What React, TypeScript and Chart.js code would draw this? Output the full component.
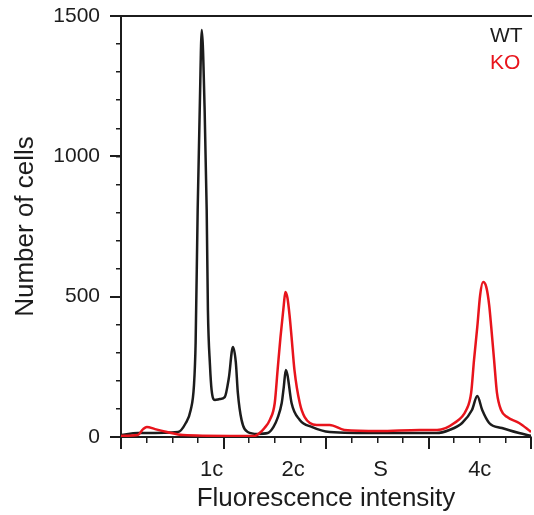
import React, { useEffect, useRef } from 'react';
import { Chart, registerables } from 'chart.js';
Chart.register(...registerables);

// Fluorescence channel (0–1000) and cell counts
const wtX = [0, 41, 139, 158, 170, 178, 182, 187, 192, 197, 204, 209, 212, 217, 221, 229, 241, 253, 263, 273, 280, 285, 294, 309, 333, 358, 372, 382, 392, 397, 402, 406, 416, 436, 465, 509, 630, 769, 801, 832, 856, 869, 881, 898, 929, 971, 1000];
const wtY = [7, 14, 18, 50, 96, 185, 335, 809, 1165, 1450, 1165, 809, 452, 256, 167, 132, 135, 142, 210, 321, 267, 157, 61, 18, 11, 14, 36, 68, 121, 178, 239, 221, 121, 61, 36, 18, 14, 14, 25, 50, 96, 146, 96, 50, 32, 14, 4];

const koX = [0, 41, 54, 63, 83, 112, 151, 265, 326, 338, 350, 363, 375, 382, 389, 397, 401, 406, 411, 416, 423, 436, 448, 477, 509, 545, 630, 728, 771, 813, 842, 854, 861, 869, 876, 883, 891, 898, 903, 910, 917, 927, 942, 971, 1000];
const koY = [4, 7, 28, 36, 28, 18, 7, 4, 4, 14, 32, 61, 121, 239, 356, 470, 517, 495, 435, 356, 239, 121, 71, 43, 43, 25, 21, 25, 25, 50, 96, 157, 274, 392, 506, 552, 534, 470, 392, 274, 157, 96, 71, 50, 18];

const xLabelPos = [221, 420, 633, 875];
const xLabelText = ['1c', '2c', 'S', '4c'];
const seriesNames = ['WT', 'KO'];

const FONT = '"Liberation Sans", Arial, Helvetica, sans-serif';
const INK = '#1c1c1c';
const RED = '#e8141c';
const seriesColors = [INK, RED];

const legendPlugin = {
  id: 'textLegend',
  afterDraw(chart: any) {
    const { ctx, chartArea } = chart;
    ctx.save();
    ctx.font = `21px ${FONT}`;
    ctx.textAlign = 'left';
    ctx.textBaseline = 'middle';
    seriesNames.forEach((n, i) => {
      ctx.fillStyle = seriesColors[i];
      ctx.fillText(n, chartArea.right - 41, chartArea.top + 20 + i * 27);
    });
    ctx.restore();
  },
};

const noPad = (s: any) => { s.paddingTop = 0; s.paddingBottom = 0; s.paddingLeft = 0; s.paddingRight = 0; };

export default function App() {
  const ref = useRef<HTMLCanvasElement>(null);
  useEffect(() => {
    const wt = wtX.map((x, i) => ({ x, y: wtY[i] }));
    const ko = koX.map((x, i) => ({ x, y: koY[i] }));
    const chart = new Chart(ref.current as HTMLCanvasElement, {
      type: 'line',
      data: {
        datasets: [
          { label: 'WT', data: wt, borderColor: INK, borderWidth: 2.5, pointRadius: 0, cubicInterpolationMode: 'monotone', order: 1 },
          { label: 'KO', data: ko, borderColor: RED, borderWidth: 2.5, pointRadius: 0, cubicInterpolationMode: 'monotone', order: 0 },
        ],
      },
      plugins: [legendPlugin],
      options: {
        animation: false,
        responsive: false,
        layout: { padding: { top: 0, right: 3, bottom: 0, left: 0 } },
        plugins: { legend: { display: false }, tooltip: { enabled: false } },
        scales: {
          x: {
            type: 'linear', position: 'bottom', weight: 2, min: 0, max: 1000,
            grid: { display: false, drawTicks: false },
            border: { display: false },
            afterBuildTicks: (s: any) => { s.ticks = xLabelPos.map((v) => ({ value: v })); },
            ticks: {
              autoSkip: false, maxRotation: 0, minRotation: 0, padding: 20, color: INK,
              font: { size: 22, family: FONT },
              callback: (_v: any, i: number) => xLabelText[i],
            },
            title: { display: true, text: 'Fluorescence intensity', color: INK, font: { size: 26, family: FONT }, padding: { top: 0, bottom: 1 } },
            afterFit: (s: any) => { s.height = 78; noPad(s); },
          },
          xMajor: {
            type: 'linear', position: 'bottom', weight: 1, min: 0, max: 1000,
            ticks: { display: false, stepSize: 250, maxTicksLimit: 100 },
            grid: { drawOnChartArea: false, drawTicks: true, tickLength: 12, color: INK, lineWidth: 2 },
            border: { display: false },
            afterFit: (s: any) => { s.height = 0; noPad(s); },
          },
          xMinor: {
            type: 'linear', position: 'bottom', weight: 0, min: 0, max: 1000,
            ticks: { display: false, stepSize: 62.5, maxTicksLimit: 100 },
            grid: { drawOnChartArea: false, drawTicks: true, tickLength: 6, color: INK, lineWidth: 1.5 },
            border: { display: true, color: INK, width: 2 },
            afterFit: (s: any) => { s.height = 0; noPad(s); },
          },
          xTop: {
            type: 'linear', position: 'top', min: 0, max: 1000,
            ticks: { display: false },
            grid: { display: false },
            border: { display: true, color: INK, width: 2 },
            afterFit: (s: any) => { s.height = 16; noPad(s); },
          },
          y: {
            type: 'linear', position: 'left', weight: 1, min: 0, max: 1500,
            ticks: { stepSize: 500, padding: 10, color: INK, font: { size: 21, family: FONT }, callback: (v: any) => String(v) },
            grid: { drawOnChartArea: false, drawTicks: true, tickLength: 11, color: INK, lineWidth: 2 },
            border: { display: false },
            title: { display: true, text: 'Number of cells', color: INK, font: { size: 26, family: FONT }, padding: { top: 10, bottom: 0 } },
            afterFit: (s: any) => { s.width = 121; noPad(s); },
          },
          yMinor: {
            type: 'linear', position: 'left', weight: 0, min: 0, max: 1500,
            ticks: { display: false, stepSize: 100, maxTicksLimit: 100 },
            grid: { drawOnChartArea: false, drawTicks: true, tickLength: 5, color: INK, lineWidth: 1.5 },
            border: { display: true, color: INK, width: 2 },
            afterFit: (s: any) => { s.width = 0; noPad(s); },
          },
        },
      } as any,
    });
    return () => chart.destroy();
  }, []);
  return (
    <div style={{ position: 'fixed', left: 0, top: 0, width: 534, height: 515, background: '#fff' }}>
      <canvas ref={ref} width={534} height={515} style={{ display: 'block' }} />
    </div>
  );
}
